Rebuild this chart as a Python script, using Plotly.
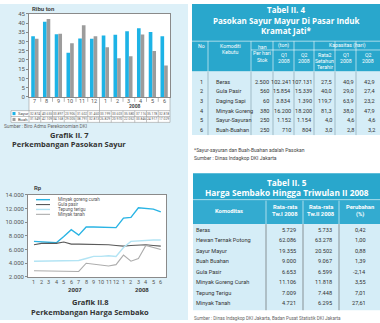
import plotly.graph_objects as go

W, H = 380, 323
FONT = "Roboto, 'Noto Sans', sans-serif"
BFONT = "'Open Sans', 'Noto Sans', sans-serif"

# ---------------- data ----------------
bar_months = ["7", "8", "9", "10", "11", "12", "1", "2", "3", "4", "5", "6"]
sayur = [32.874, 40.655, 33.897, 23.906, 31.602, 31.460, 33.199, 33.603, 35.580, 37.116, 35.178, 32.818]
buah = [31.549, 42.109, 34.168, 29.005, 38.791, 32.813, 26.829, 20.970, 22.052, 33.846, 24.917, 17.029]

line_months = ["1", "2", "3", "4", "5", "6", "7", "8", "9", "10", "11", "12", "1", "2", "3", "4", "5", "6"]
minyak_goreng = [7200, 7100, 7000, 7000, 7900, 8900, 8100, 9300, 9300, 9300, 9300, 9200, 10600, 10700, 12100, 12000, 11900, 11500]
gula_pasir = [6700, 6900, 6900, 6900, 7100, 6800, 6800, 6800, 6800, 6800, 6700, 6600, 6500, 6600, 6700, 6700, 6600, 6500]
tepung_terigu = [4300, 4300, 4300, 4400, 4400, 4400, 4400, 4700, 5000, 5000, 5100, 5000, 6300, 7200, 7300, 7400, 7400, 7400]
minyak_tanah = [2900, 2900, 2900, 2800, 2800, 2800, 2800, 4000, 3900, 3700, 3600, 3800, 5200, 4300, 4700, 6600, 6300, 6000]

t4_no = [1, 2, 3, 4, 5, 6]
t4_komoditi = ["Beras", "Gula Pasir", "Daging Sapi", "Minyak Goreng", "Sayur-Sayuran", "Buah-Buahan"]
t4_stok = [2500, 560, 60, 380, 250, 250]
t4_q1_ton = [102241, 15854, 3834, 16200, 1152, 710]
t4_q2_ton = [107131, 15339, 1390, 18200, 1154, 804]
t4_rata2 = [27.5, 40.0, 119.7, 81.3, 4.0, 3.0]
t4_q1_hari = [40.9, 29.0, 63.9, 38.0, 4.6, 2.8]
t4_q2_hari = [42.9, 27.4, 23.2, 47.9, 4.6, 3.2]

t5_komoditas = ["Beras", "Hewan Ternak Potong", "Sayur Mayur", "Buah Buahan", "Gula Pasir",
                "Minyak Goreng Curah", "Tepung Terigu", "Minyak Tanah"]
t5_tw1 = [5729, 62086, 19355, 9000, 6653, 11106, 7009, 4721]
t5_tw2 = [5733, 63278, 20502, 9067, 6599, 11818, 7448, 6295]
t5_perubahan = [0.42, 1.00, 0.88, 1.39, -2.14, 3.55, 7.01, 27.61]


def idn(v, dec=0):
    s = f"{v:,.{dec}f}"
    return s.replace(",", "#").replace(".", ",").replace("#", ".")


# ---------------- helpers ----------------
shapes, annots = [], []


def px(x):
    return x / W


def py(y):
    return 1 - y / H


def R(x0, y0, x1, y1, fill, line=None, lw=0.6):
    shapes.append(dict(type="rect", xref="paper", yref="paper", x0=px(x0), x1=px(x1),
                       y0=py(y1), y1=py(y0), fillcolor=fill, layer="below",
                       line=dict(width=lw if line else 0, color=line or fill)))


def L(x0, y0, x1, y1, color, w=0.6, layer="above"):
    shapes.append(dict(type="line", xref="paper", yref="paper", x0=px(x0), x1=px(x1),
                       y0=py(y0), y1=py(y1), layer=layer, line=dict(color=color, width=w)))


def T(x, y, text, size=6, color="#333", anchor="left", family=FONT):
    annots.append(dict(x=px(x), y=py(y), xref="paper", yref="paper", text=text, showarrow=False,
                       xanchor=anchor, yanchor="middle", borderpad=0,
                       font=dict(size=size, color=color, family=family)))


def TX(xv, xref, y, text, size=6, color="#555"):
    annots.append(dict(x=xv, y=py(y), xref=xref, yref="paper", text=text, showarrow=False,
                       xanchor="center", yanchor="middle", borderpad=0,
                       font=dict(size=size, color=color, family=FONT)))


TEAL = "#29a7cc"
BODY = "#d5edf7"
PANEL = "#ddf0f8"
C_SAYUR = "#1db3e6"
C_BUAH = "#9c9c9c"

# ---------------- left panel ----------------
R(0, 0, 188, 323, PANEL)
BX0, BX1, BY0, BY1 = 29, 170, 10, 95
R(BX0, BY0, BX1, 109, "white")
R(11, 109, BX1, 121, "white")
LX0, LX1, LY0, LY1 = 28, 166, 195, 279
R(LX0, LY0, LX1, LY1, "white")

fig = go.Figure()
fig.add_trace(go.Bar(x=list(range(12)), y=sayur, name="Sayur", marker_color=C_SAYUR,
                     marker_line_width=0, xaxis="x", yaxis="y"))
fig.add_trace(go.Bar(x=list(range(12)), y=buah, name="Buah", marker_color=C_BUAH,
                     marker_line_width=0, xaxis="x", yaxis="y"))

series = [("Minyak goreng curah", minyak_goreng, "#2ab4e4", 1.4),
          ("Gula pasir", gula_pasir, "#5a5a5a", 1.1),
          ("Tepung terigu", tepung_terigu, "#b3e4f4", 1.4),
          ("Minyak tanah", minyak_tanah, "#acacac", 1.1)]
for name, vals, col, w in series:
    fig.add_trace(go.Scatter(x=list(range(18)), y=vals, name=name, mode="lines",
                             line=dict(color=col, width=w), xaxis="x2", yaxis="y2"))

# bar chart decorations
for i in range(11):
    xv = i + 0.5
    shapes.append(dict(type="line", xref="x", yref="paper", x0=xv, x1=xv,
                       y0=py(109 if i == 5 else 100), y1=py(BY1),
                       line=dict(color="#8a8a8a", width=0.6)))
    shapes.append(dict(type="line", xref="x", yref="paper", x0=xv, x1=xv, y0=py(121), y1=py(109),
                       line=dict(color="#8a8a8a", width=0.5)))
L(11, 109, BX1, 109, "#8a8a8a", 0.5)
L(11, 115, BX1, 115, "#8a8a8a", 0.5)
L(11, 121, BX1, 121, "#8a8a8a", 0.5)
L(11, 109, 11, 121, "#8a8a8a", 0.5)
L(BX0, 95, BX0, 121, "#8a8a8a", 0.5)
L(BX1, 95, BX1, 121, "#8a8a8a", 0.5)
for i, m in enumerate(bar_months):
    TX(i, "x", 99.5, m, 5.5)
TX(8.5, "x", 104.5, "<b>2008</b>", 5, "#444")
for r, (lab, vals, col) in enumerate([("Sayur", sayur, C_SAYUR), ("Buah", buah, C_BUAH)]):
    yc = 112 + r * 6
    R(12.5, yc - 1.6, 15.5, yc + 1.6, col)
    T(16.5, yc, lab, 4.2, "#444")
    for i, v in enumerate(vals):
        TX(i, "x", yc, f"{v:.3f}", 3.3, "#555")
T(31, 4.5, "<b>Ribu ton</b>", 6, "#444")
T(3, 125.5, "Sumber : Biro Adms Perekonomian DKI", 4.8, "#666")
T(69, 133.5, "<b>Grafik II. 7</b>", 7.5, "#333", "center", BFONT)
T(69, 143, "<b>Perkembangan Pasokan Sayur</b>", 7.5, "#333", "center", BFONT)

# line chart decorations
T(33, 188, "<b>Rp</b>", 6, "#444")
for k, (name, vals, col, w) in enumerate(series):
    yy = 200 + k * 5
    L(36, yy, 50, yy, col, w)
    T(57, yy, name, 4.5, "#555")
for i, m in enumerate(line_months):
    TX(i, "x2", 284, m, 5.5)
TX(5.5, "x2", 292, "<b>2007</b>", 6, "#333")
TX(14.5, "x2", 292, "<b>2008</b>", 6, "#333")
T(90, 305, "<b>Grafik II.8</b>", 7.5, "#333", "center", BFONT)
T(90, 315, "<b>Perkembangan Harga Sembako</b>", 7.5, "#333", "center", BFONT)

# ---------------- Tabel II.4 ----------------
TX0 = 192
R(TX0, 0, W, 69, TEAL)
R(TX0, 69, W, 134, BODY)
T(286, 6, "<b>Tabel II. 4</b>", 8, "white", "center", BFONT)
T(286, 17, "<b>Pasokan Sayur Mayur Di Pasar Induk</b>", 8, "white", "center", BFONT)
T(286, 28, "<b>Kramat Jati*</b>", 8, "white", "center", BFONT)
c4 = [TX0, 208, 251, 273, 294, 314, 335, 356, W]
for xv in c4[1:-1]:
    L(xv, 38, xv, 69, "white", 0.6)
    L(xv, 69, xv, 134, "#6a8a96", 0.5)
L(251, 47, W, 47, "white", 0.6)
L(TX0, 38, W, 38, "white", 0.6)
hs = 5.2
T(197, 43, "No", hs, "white")
T(230, 43, "Komoditi", hs, "white", "center")
T(230, 49.5, "Kebutu", hs, "white", "center")
T(262, 44, "han", hs, "white", "center")
T(262, 50.5, "Per hari", hs, "white", "center")
T(262, 57, "Stok", hs, "white", "center")
T(283, 42.5, "(ton)", hs, "white", "center")
T(347, 42.5, "Kapasitas (hari)", hs, "white", "center")
for xc, a, b in [(283.5, "Q1", "2008"), (304, "Q2", "2008"), (345.5, "Q1", "2008"), (368, "Q2", "2008")]:
    T(xc, 52, a, hs, "white", "center")
    T(xc, 58, b, hs, "white", "center")
T(324.5, 52, "Rata2", hs, "white", "center")
T(324.5, 58, "Setahun", hs, "white", "center")
T(324.5, 64, "Terahir", hs, "white", "center")
bs = 5.6
for i in range(len(t4_no)):
    yy = 79.5 + i * 9.8
    T(199, yy, str(t4_no[i]), bs, "#333")
    T(215, yy, t4_komoditi[i], bs, "#333")
    T(270, yy, idn(t4_stok[i]), bs, "#333", "right")
    T(292, yy, idn(t4_q1_ton[i]), bs, "#333", "right")
    T(313, yy, idn(t4_q2_ton[i]), bs, "#333", "right")
    T(333, yy, idn(t4_rata2[i], 1), bs, "#333", "right")
    T(355, yy, idn(t4_q1_hari[i], 1), bs, "#333", "right")
    T(376, yy, idn(t4_q2_hari[i], 1), bs, "#333", "right")
T(193, 149, "*Sayur-sayuran dan Buah-Buahan adalah Pasokan", 5, "#444")
T(193, 157.5, "Sumber : Dinas Indagkop DKI Jakarta", 5, "#444")

# ---------------- Tabel II.5 ----------------
UX0 = 193
R(UX0, 173, W, 200, TEAL)
R(UX0, 200, W, 225, "#33abd0")
R(UX0, 225, W, 313, BODY)
T(286.5, 182, "<b>Tabel II. 5</b>", 8.3, "white", "center", BFONT)
T(286.5, 192.5, "<b>Harga Sembako Hingga Triwulan II 2008</b>", 8.3, "white", "center", BFONT)
c5 = [266, 303, 339]
for xv in c5:
    L(xv, 201, xv, 225, "white", 0.6)
    L(xv, 225, xv, 313, "#555", 0.6)
L(UX0, 200, W, 200, "white", 0.5)
T(229, 212, "<b>Komoditas</b>", 5.8, "white", "center")
T(284.5, 207, "<b>Rata-rata</b>", 5.8, "white", "center")
T(284.5, 215, "<b>Tw.I 2008</b>", 5.8, "white", "center")
T(321, 207, "<b>Rata-rata</b>", 5.8, "white", "center")
T(321, 215, "<b>Tw.II 2008</b>", 5.8, "white", "center")
T(359.5, 207, "<b>Perubahan</b>", 5.8, "white", "center")
T(359.5, 215, "<b>(%)</b>", 5.8, "white", "center")
for i in range(len(t5_komoditas)):
    yy = 231 + i * 10.7
    T(195, yy, t5_komoditas[i], bs, "#333")
    T(297, yy, idn(t5_tw1[i]), bs, "#333", "right")
    T(333, yy, idn(t5_tw2[i]), bs, "#333", "right")
    T(367, yy, idn(t5_perubahan[i], 2), bs, "#333", "right")
T(193, 321, "Sumber : Dinas Indagkop DKI Jakarta, Badan Pusat Statistik DKI Jakarta", 4.6, "#666")

axis_common = dict(showgrid=False, zeroline=False, showline=True, mirror=True,
                   linecolor="#8a8a8a", linewidth=0.7, tickfont=dict(size=6, color="#555", family=FONT))
fig.update_layout(
    width=W, height=H, margin=dict(l=0, r=0, t=0, b=0),
    paper_bgcolor="white", plot_bgcolor="rgba(0,0,0,0)",
    showlegend=False, barmode="group", bargap=0.38, bargroupgap=0,
    separators=",.",
    xaxis=dict(domain=[px(BX0), px(BX1)], range=[-0.5, 11.5], showticklabels=False,
               ticks="", anchor="y", **axis_common),
    yaxis=dict(domain=[py(BY1), py(BY0)], range=[0, 45], dtick=5, ticks="outside", ticklen=2,
               tickcolor="#8a8a8a", anchor="x", **axis_common),
    xaxis2=dict(domain=[px(LX0), px(LX1)], range=[-0.8, 17.7], showticklabels=False,
                ticks="", anchor="y2", **axis_common),
    yaxis2=dict(domain=[py(LY1), py(LY0)], range=[2000, 14000], dtick=2000, ticks="outside",
                ticklen=2, tickcolor="#8a8a8a", tickformat=",d", anchor="x2", **axis_common),
    shapes=shapes, annotations=annots,
)
fig.write_html("out.html")
